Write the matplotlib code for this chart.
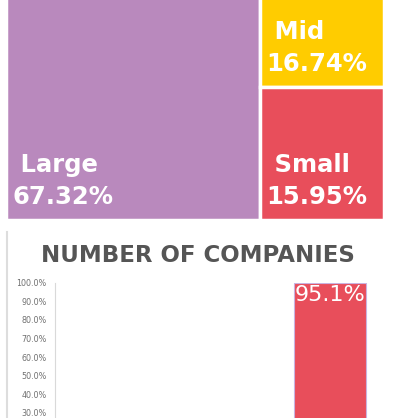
import matplotlib.pyplot as plt
from matplotlib.patches import Rectangle
from matplotlib.lines import Line2D

# treemap: share of market cap
segments = ["Large", "Mid", "Small"]
cap_share = [67.32, 16.74, 15.95]
seg_colors = ["#B989BD", "#FFCC00", "#E84E5B"]

# column chart: number of companies (only the Small bar reaches the visible range)
bar_cats = ["Large", "Mid", "Small"]
bar_tops = [1.0, 3.9, 100.0]
bar_labels = ["", "", "95.1%"]
yticks = [0, 10, 20, 30, 40, 50, 60, 70, 80, 90, 100]

W, H = 395, 418
fig = plt.figure(figsize=(W / 100, H / 100), dpi=100)
fig.patch.set_facecolor("white")


def px_axes(x0, y_top, x1, y_bot):
    # axes placed by pixel box (top-left origin)
    return fig.add_axes([x0 / W, 1 - y_bot / H, (x1 - x0) / W, (y_bot - y_top) / H])


# ---- treemap ----
tm = px_axes(6, -52.6, 384, 220)
tm.set_xlim(0, 1)
tm.set_ylim(0, 1)
tm.axis("off")

total = sum(cap_share)
large_w = cap_share[0] / total
right_total = cap_share[1] + cap_share[2]
small_h = cap_share[2] / right_total

boxes = [
    (0, 0, large_w, 1),
    (large_w, small_h, 1 - large_w, 1 - small_h),
    (large_w, 0, 1 - large_w, small_h),
]
for (x, y, w, h), name, val, c in zip(boxes, segments, cap_share, seg_colors):
    tm.add_patch(Rectangle((x, y), w, h, facecolor=c, edgecolor="white", linewidth=2.5))
    tm.text(x + 0.016, y + 0.04, f" {name}\n{val:.2f}%", color="white",
            fontsize=17.5, fontweight="bold", family="DejaVu Sans",
            ha="left", va="bottom", linespacing=1.4)

# ---- chart area left border ----
fig.add_artist(Line2D([6.5 / W, 6.5 / W], [0, 1 - 232 / H], transform=fig.transFigure,
                      color="#DDDDDD", linewidth=1.5))

fig.text(198 / W, 1 - 256 / H, "NUMBER OF COMPANIES", ha="center", va="center",
         fontsize=16.5, fontweight="bold", color="#555555", family="DejaVu Sans")

# ---- column chart ----
ax = px_axes(55, 282.7, 385, 468.7)
x = range(len(bar_cats))
bars = ax.bar(x, bar_tops, width=0.66, color="#E84E5B", edgecolor="#C9B3E0", linewidth=0.8)
for b, lab in zip(bars, bar_labels):
    if lab:
        ax.text(b.get_x() + b.get_width() / 2, b.get_height() - 1.5, lab,
                ha="center", va="top", color="white", fontsize=16, family="DejaVu Sans")

ax.set_xlim(-0.5, 2.5)
ax.set_ylim(0, 100)
ax.set_yticks(yticks)
ax.set_yticklabels([f"{t:.1f}%" for t in yticks])
ax.tick_params(axis="y", length=0, labelsize=5.8, labelcolor="#707070", pad=6)
ax.set_xticks([])
for s in ["top", "right", "bottom"]:
    ax.spines[s].set_visible(False)
ax.spines["left"].set_color("#D9D9D9")
ax.patch.set_alpha(0)

fig.savefig("out.png", dpi=100)
